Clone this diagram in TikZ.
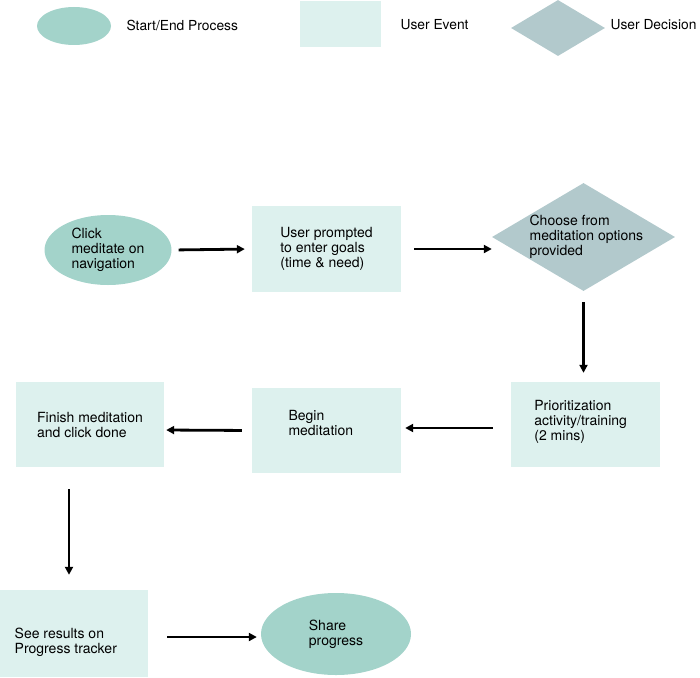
\documentclass[tikz,border=0pt]{standalone}
\usepackage{fontspec}
\setmainfont{TeX Gyre Heros}
\usepackage{tikz}
\usepackage{xcolor}
\usetikzlibrary{shapes.geometric,arrows.meta}
\definecolor{startend}{HTML}{A3D3CA}
\definecolor{userevent}{HTML}{DDF1EE}
\definecolor{userdecision}{HTML}{B2C9CC}
\tikzset{
    start-end/.style = {ellipse, fill=startend, inner sep=0pt, align=left, font=\fontsize{14}{15}\selectfont},
    user-event/.style = {rectangle, fill=userevent, inner sep=0pt, align=left, font=\fontsize{14}{15}\selectfont},
    user-decision/.style = {diamond, fill=userdecision, inner sep=0pt, aspect=1.7, align=left, font=\fontsize{14}{15}\selectfont},
    legend-text/.style = {anchor=west, font=\fontsize{13.8}{15}\selectfont},
    flow-arrow/.style = {line width=2.8pt, -{Triangle[length=8pt,width=8pt]}},
}

\begin{document}
\begin{tikzpicture}[x=1pt,y=-1pt]
\useasboundingbox (0,0) rectangle (700,677);
% legend
\node[start-end, minimum width=74pt, minimum height=38pt] (key-start) at (74,26) {};
\node[legend-text] (key-start-text) at (123,25) {Start/End Process};
\node[user-event, minimum width=81pt, minimum height=46pt] (key-event) at (340.5,24) {};
\node[legend-text] (key-event-text) at (397,25) {User Event};
\node[user-decision, minimum width=94pt, minimum height=56pt] (key-decision) at (558,28) {};
\node[legend-text] (key-decision-text) at (607,25) {User Decision};

% flow
\node[start-end, minimum width=127pt, minimum height=70pt] (click) at (108,250) {Click\\meditate on\\navigation};
\node[user-event, minimum width=149pt, minimum height=86pt] (prompt) at (326.5,249) {User prompted\\to enter goals\\(time \& need)};
\node[user-decision, minimum width=183pt, minimum height=108pt] (choose) at (583.5,237) {\hspace*{14pt}\raisebox{-3pt}[0pt][0pt]{\parbox{8.7em}{Choose from\\meditation options\\provided}}};
\node[user-event, minimum width=149pt, minimum height=85pt] (prio) at (585.5,424.5) {\raisebox{-1pt}[0pt][0pt]{\parbox{7.3em}{Prioritization\\activity/training\\(2 mins)}}};
\node[user-event, minimum width=149pt, minimum height=85pt] (begin) at (326.5,430.5) {\raisebox{4pt}[0pt][0pt]{\parbox{5em}{Begin\\meditation}}\hspace*{6pt}};
\node[user-event, minimum width=148pt, minimum height=85pt] (finish) at (90,424.5) {Finish meditation\\and click done};
\node[user-event, minimum width=148pt, minimum height=87pt] (results) at (74,633.5) {\raisebox{-12pt}[0pt][0pt]{\parbox{7.9em}{See results on\\Progress tracker}}\hspace*{8pt}};
\node[start-end, minimum width=150pt, minimum height=82pt] (share) at (336,634) {Share\\progress};

\draw[flow-arrow, shorten <=7pt, shorten >=7pt] (click.east) -- (prompt.west);
\draw[flow-arrow, shorten <=13pt] (prompt.east) -- (choose.west |- prompt.east);
\draw[flow-arrow, line width=2.5pt, shorten <=11pt, shorten >=9pt] (choose.south) -- (prio.north -| choose.south);
\draw[flow-arrow, shorten <=18pt, shorten >=4pt] ([yshift=-3.5pt]prio.west) -- ([yshift=2.5pt]begin.east);
\draw[flow-arrow, shorten <=10pt, shorten >=2pt] (begin.west) -- ([yshift=-5.5pt]finish.east);
\draw[flow-arrow, line width=2.5pt, shorten <=22pt, shorten >=15pt] ([xshift=-5pt]results.north |- finish.south) -- ([xshift=-5pt]results.north);
\draw[flow-arrow, shorten <=19pt, shorten >=4pt] ([yshift=-3.5pt]results.east) -- ([yshift=-3.5pt]share.west |- results.east);
\end{tikzpicture}
\end{document}
